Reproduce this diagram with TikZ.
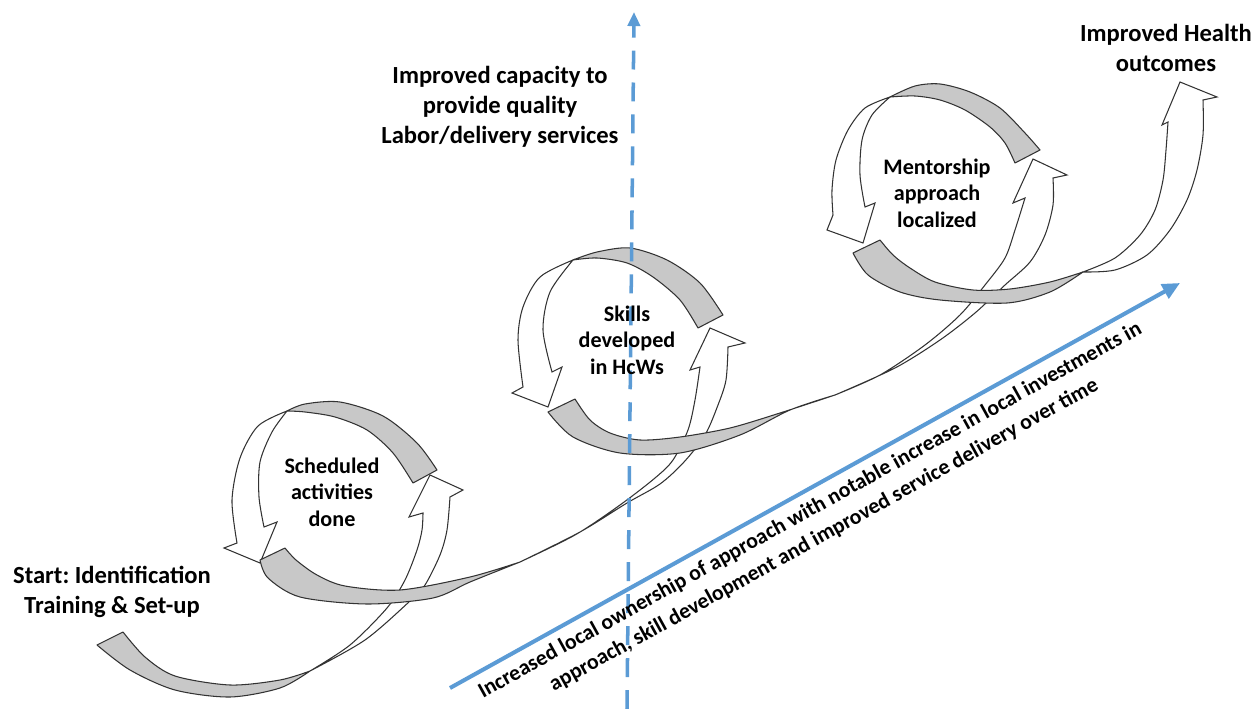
\documentclass[tikz,border=0pt]{standalone}
\usepackage{fontspec}
\setmainfont{Carlito}
\usetikzlibrary{arrows.meta}
\definecolor{bandgray}{RGB}{200,200,200}
\definecolor{ppblue}{RGB}{91,155,213}
\frenchspacing
\begin{document}
\begin{tikzpicture}[x=0.02cm,y=-0.02cm,
  band/.style={fill=bandgray,draw=black!80,line width=0.6pt,line join=round},
  warrow/.style={fill=white,draw=black!80,line width=0.6pt,line join=miter},
  lbl/.style={font=\bfseries\fontsize{14}{17}\selectfont,align=center,text=black,inner sep=0pt},
  loopl/.style={font=\bfseries\fontsize{12.6}{15}\selectfont,align=center,text=black,inner sep=0pt},
  diag/.style={font=\bfseries\fontsize{12.4}{16.2}\selectfont,align=center,text=black,inner sep=0pt,rotate=29,anchor=center},
  axis/.style={ppblue,line width=2.3pt}]
\useasboundingbox (0,0) rectangle (1258,709);

% ---------- white arrows (front faces) ----------
% A1: start -> loop 1 right side
\path[warrow] plot[smooth] coordinates {(310,671) (350,645) (387,608) (405,580) (417,550) (422,530) (423,513)}
  -- (409,517) -- (430,475) -- (463,490) -- (450,497)
  -- plot[smooth] coordinates {(450,497) (447,530) (440,555) (425,585) (410,601) (365,640) (310,671)} -- cycle;
% L1: loop 1 left side, down
\path[warrow] plot[smooth] coordinates {(287,411) (258,426) (240,458) (232,500) (237,543)}
  -- (224,548) -- (260,563) -- (277,522) -- (264,527)
  -- plot[smooth] coordinates {(264,527) (259,497) (260,462) (272,432) (287,411)} -- cycle;
% A2: loop 1 -> loop 2 right side
\path[warrow] plot[smooth] coordinates {(520,562) (575,535) (620,505) (655,478) (673,460) (688,430) (695,400) (700,367)}
  -- (690,370) -- (710,328) -- (745,343) -- (728,347)
  -- plot[smooth] coordinates {(728,347) (726,380) (718,405) (705,435) (684,462) (660,484) (627,503) (580,532) (520,562)} -- cycle;
% L2
\path[warrow] plot[smooth] coordinates {(573,260) (540,277) (523,307) (518,340) (523,387)}
  -- (512,393) -- (548,407) -- (562,367) -- (552,372)
  -- plot[smooth] coordinates {(552,372) (543,330) (550,292) (573,260)} -- cycle;
% A3: loop 2 -> loop 3 right side
\path[warrow] plot[smooth] coordinates {(835,395) (880,375) (925,345) (960,315) (985,285) (1005,258) (1015,230) (1025,198)}
  -- (1013,203) -- (1033,159) -- (1067,175) -- (1053,178)
  -- plot[smooth] coordinates {(1053,178) (1053,205) (1045,235) (1030,262) (1005,285) (975,313) (940,340) (895,368) (835,395)} -- cycle;
% L3
\path[warrow] plot[smooth] coordinates {(890,97) (865,108) (848,130) (836,160) (832,190) (833,215)}
  -- (827,230) -- (863,243) -- (875,203) -- (865,207)
  -- plot[smooth] coordinates {(865,207) (860,175) (862,140) (872,115) (890,97)} -- cycle;
% A4: loop 3 -> outcomes
\path[warrow] plot[smooth] coordinates {(1083,272) (1115,258) (1140,235) (1155,210) (1163,180) (1166,150) (1168,122)}
  -- (1162,125) -- (1180,82) -- (1217,97) -- (1203,100)
  -- plot[smooth] coordinates {(1203,100) (1203,135) (1197,170) (1187,200) (1170,230) (1147,255) (1115,270) (1083,272)} -- cycle;

% ---------- gray bands (back faces) ----------
% S1: start band
\path[band] plot[smooth] coordinates {(97,645) (130,670) (175,690) (230,697) (280,688) (310,671)}
  -- plot[smooth] coordinates {(310,671) (280,680) (230,685) (175,676) (145,657) (123,632)} -- cycle;
% T1
\path[band] plot[smooth] coordinates {(437,470) (417,443) (383,416) (340,402) (305,404) (287,411)}
  -- plot[smooth] coordinates {(287,411) (305,412) (335,417) (367,430) (393,453) (413,483)} -- cycle;
% B1
\path[band] plot[smooth] coordinates {(260,560) (268,578) (300,597) (367,604) (433,598) (470,582) (520,562)}
  -- plot[smooth] coordinates {(520,562) (470,577) (400,590) (345,586) (317,575) (296,560) (285,548)} -- cycle;
% T2
\path[band] plot[smooth] coordinates {(723,315) (700,283) (667,260) (630,248) (597,252) (573,260)}
  -- plot[smooth] coordinates {(573,260) (597,258) (627,263) (653,277) (680,300) (698,328)} -- cycle;
% B2
\path[band] plot[smooth] coordinates {(548,412) (573,437) (620,453) (680,453) (740,435) (790,410) (835,395)}
  -- plot[smooth] coordinates {(835,395) (780,413) (730,428) (680,437) (640,440) (610,433) (590,420) (575,399)} -- cycle;
% T3
\path[band] plot[smooth] coordinates {(1040,150) (1025,133) (1000,108) (970,92) (940,84) (915,86) (890,97)}
  -- plot[smooth] coordinates {(890,97) (915,96) (940,100) (965,110) (990,127) (1005,143) (1015,163)} -- cycle;
% B3
\path[band] plot[smooth] coordinates {(853,253) (868,275) (900,292) (940,300) (1007,303) (1050,292) (1083,272)}
  -- plot[smooth] coordinates {(1083,272) (1050,282) (1010,289) (973,290) (935,282) (910,268) (893,255) (880,240)} -- cycle;

% ---------- blue axes ----------
\coordinate (vS) at (627,709);
\coordinate (vE) at (634,12);
\draw[axis,line width=2pt,dash pattern=on 10.8pt off 7.4pt,-{Triangle[length=8pt,width=7pt]}] (vS) -- (vE);
\coordinate (dS) at (450,688);
\coordinate (dE) at (1180,283);
\draw[axis,-{Triangle[length=10pt,width=9pt]}] (dS) -- (dE);

% ---------- labels ----------
\node[lbl] (cap) at (500,107) {Improved capacity to\\provide quality\\Labor/delivery services};
\node[lbl] (health) at (1166,48) {Improved Health\\outcomes};
\node[loopl] (ment) at (937,193) {Mentorship\\approach\\localized};
\node[loopl] (skills) at (627,340) {Skills\\developed\\in HcWs};
\node[loopl] (sched) at (332,492) {Scheduled\\activities\\done};
\node[lbl] (start) at (112,592) {Start: Identification\\Training \& Set-up};
\node[diag] (diagtext) at (817,523) {Increased local ownership of approach with notable increase in local investments in\\approach, skill development and improved service delivery over time};
\end{tikzpicture}
\end{document}
